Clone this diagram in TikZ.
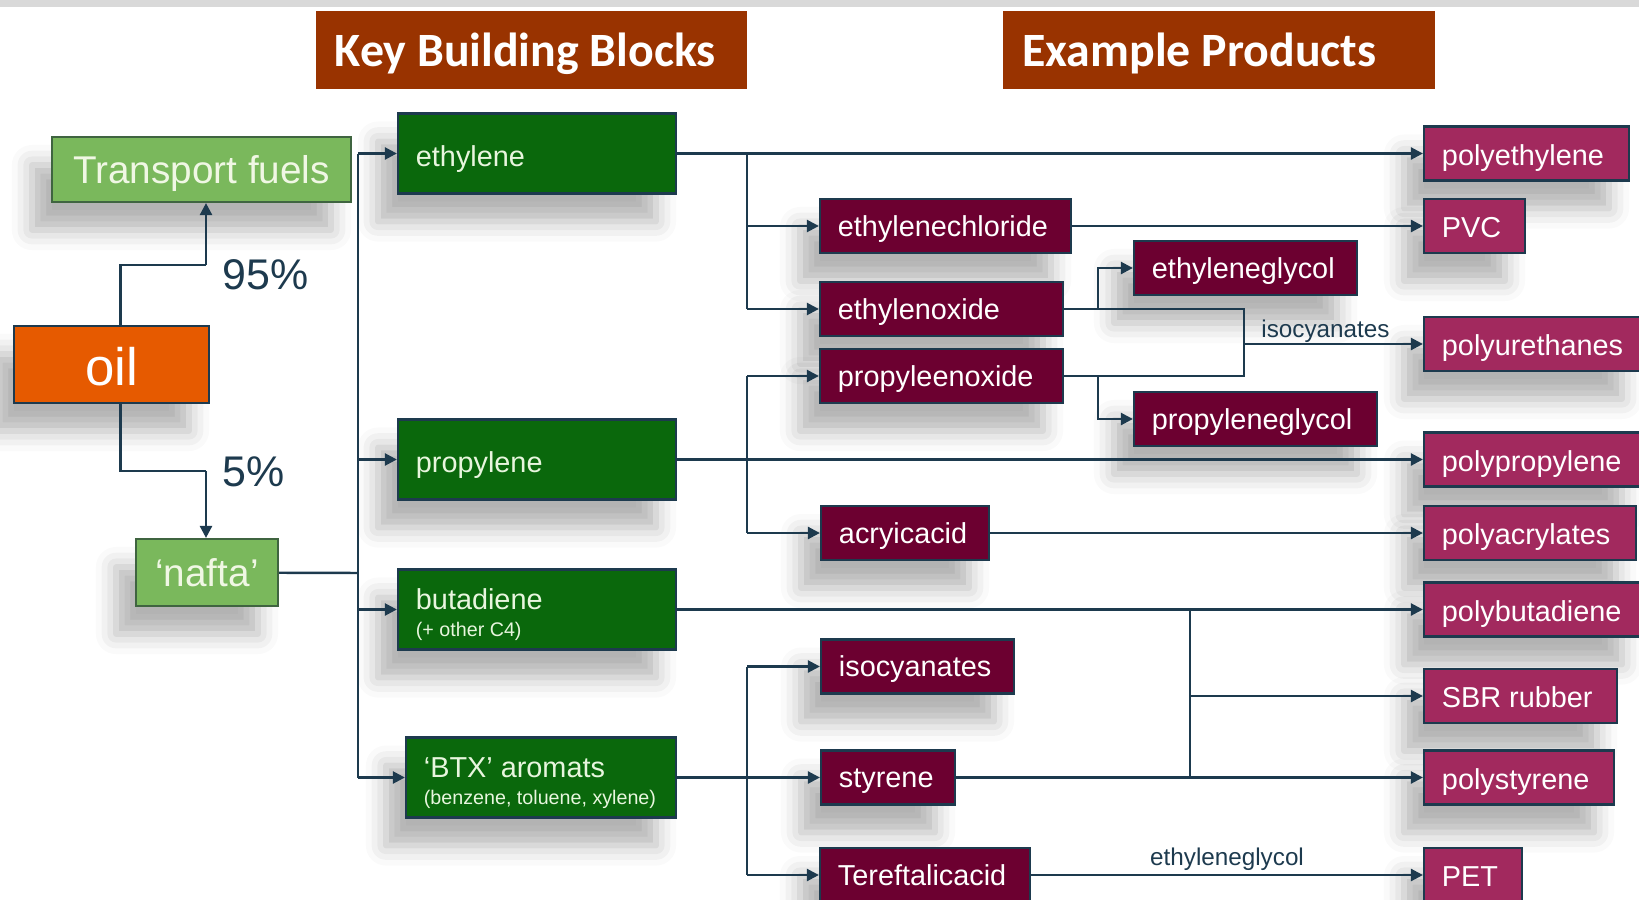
\documentclass[tikz,border=0pt]{standalone}
\usepackage{fontspec}
\setmainfont{Liberation Sans}
\newfontfamily\headfont{Carlito}
\usetikzlibrary{arrows.meta,shadows.blur}
\definecolor{navy}{HTML}{1D3A4E}
\definecolor{headred}{HTML}{993300}
\definecolor{fuelgreen}{HTML}{7AB85C}
\definecolor{fuelline}{HTML}{3F6440}
\definecolor{fuelcream}{HTML}{F0F7E4}
\definecolor{oilorange}{HTML}{E65A00}
\definecolor{blkgreen}{HTML}{0A680C}
\definecolor{blktext}{HTML}{E8F6DE}
\definecolor{midred}{HTML}{6C0030}
\definecolor{prodred}{HTML}{A2295E}
\newcommand{\boxfont}{\fontsize{8.2}{9.8}\selectfont}
\newcommand{\smallfont}{\fontsize{5.6}{6.8}\selectfont}
\begin{document}
\begin{tikzpicture}[x=0.01cm,y=-0.01cm,
  box/.style={draw=navy,line width=0.6pt,inner xsep=0.18cm,inner ysep=0.05cm,align=flush left,
    blur shadow={shadow xshift=-0.2cm,shadow yshift=-0.28cm,shadow blur radius=0.2cm,shadow opacity=30}},
  one/.style={text height=10.3pt,text depth=2.1pt},
  src/.style={box,one,draw=fuelline,fill=fuelgreen,text=fuelcream,align=center,font=\fontsize{11}{13}\selectfont},
  blk/.style={box,fill=blkgreen,text=blktext,text width=#1,minimum height=0.8cm,font=\boxfont},
  mid/.style={box,text height=7.9pt,text depth=2.1pt,fill=midred,text=white,text width=#1,minimum height=0.54cm,font=\boxfont},
  prod/.style={box,text height=8.9pt,text depth=2.1pt,fill=prodred,text=white,text width=#1,minimum height=0.54cm,font=\boxfont},
  head/.style={fill=headred,text=white,inner xsep=0.19cm,text width=3.93cm,minimum height=0.78cm,align=flush left,
    text depth=0pt,font=\headfont\bfseries\fontsize{13.6}{16}\selectfont},
  link/.style={draw=navy,line width=0.7pt},
  arr/.style={link,-{Triangle[length=0.12cm,width=0.12cm]}},
  lbl/.style={text=navy,inner sep=0pt,above=0pt,font=\fontsize{6.9}{8}\selectfont},
  pct/.style={text=navy,anchor=west,inner sep=0pt,font=\fontsize{12.2}{14}\selectfont}]
\useasboundingbox (0,0) rectangle (1639,900);
%top bar
\fill[gray!30] (0,0) rectangle (1639,7);
%headers
\node[head] (kbb) at (531.5,50) {Key Building Blocks};
\node[head] (exp) at (1219,50) {Example Products};
%sources
\node[src,minimum width=2.99cm,minimum height=0.65cm] (tf) at (201.5,169.5) {Transport fuels};
\node[src,fill=oilorange,draw=navy,text=white,minimum width=1.95cm,minimum height=0.77cm,
  text height=12.1pt,text depth=0pt,font=\fontsize{15}{18}\selectfont] (oil) at (111.5,364.5) {oil};
\node[src,minimum width=1.42cm,minimum height=0.67cm] (nafta) at (207,572.5) {‘nafta’};
\node[pct] (p95) at (222,275) {95\%};
\node[pct] (p5) at (222,472) {5\%};
%building blocks
\node[blk=2.42cm,text height=9.5pt,text depth=2.1pt] (eth) at (537,153.5) {ethylene};
\node[blk=2.42cm,text height=9.5pt,text depth=2.1pt] (prop) at (537,459.5) {propylene};
\node[blk=2.42cm] (buta) at (537,609.5) {\rule{0pt}{8.8pt}butadiene\\[-2.2pt]\mbox{\smallfont (+ other C4)}};
\node[blk=2.34cm] (btx) at (541,777.5) {\rule{0pt}{8.8pt}‘BTX’ aromats\\[-2.2pt]\mbox{\smallfont (benzene, toluene, xylene)}};
%intermediates
\node[mid=2.15cm] (ecl) at (945.5,226) {ethylenechloride};
\node[mid=2.07cm] (eox) at (941.5,309) {ethylenoxide};
\node[mid=1.87cm] (eg) at (1245.5,268) {ethyleneglycol};
\node[mid=2.07cm] (pox) at (941.5,376) {propyleenoxide};
\node[mid=2.07cm] (pg) at (1255.5,419) {propyleneglycol};
\node[mid=1.32cm] (acr) at (905,533) {acryicacid};
\node[mid=1.57cm] (iso) at (917.5,666.5) {isocyanates};
\node[mid=0.98cm] (sty) at (888,777.5) {styrene};
\node[mid=1.74cm] (tere) at (925,875) {Tereftalicacid};
%products
\node[prod=1.69cm] (pe) at (1526.5,153.5) {polyethylene};
\node[prod=0.65cm] (pvc) at (1474.5,226) {PVC};
\node[prod=1.82cm] (pu) at (1533,344) {polyurethanes};
\node[prod=1.82cm] (pp) at (1533,459.5) {polypropylene};
\node[prod=1.76cm] (pa) at (1530,533) {polyacrylates};
\node[prod=1.82cm] (pb) at (1533,609.5) {polybutadiene};
\node[prod=1.57cm] (sbr) at (1520.5,696) {SBR rubber};
\node[prod=1.54cm] (ps) at (1519,777.5) {polystyrene};
\node[prod=0.62cm] (pet) at (1473,875) {PET};
%junctions
\coordinate (k95) at (206,265);
\coordinate (k5) at (206,471);
\coordinate (bus) at (358,573);
\coordinate (ej) at (747,0);
\coordinate (gj) at (1098,0);
\coordinate (uj) at (1244,0);
\coordinate (sj) at (1190,0);
%oil split
\draw[link] ([xshift=0.09cm]oil.north) |- (k95);
\draw[arr] (k95) -- (k95 |- tf.south);
\draw[link] ([xshift=0.09cm]oil.south) |- (k5);
\draw[arr] (k5) -- (k5 |- nafta.north);
%nafta to building blocks
\draw[link] (nafta) -- (bus);
\draw[link] (bus |- eth) -- (bus |- btx);
\foreach \b in {eth,prop,buta,btx} \draw[arr] (bus |- \b) -- (\b);
%ethylene
\draw[arr] (eth) -- (pe);
\draw[link] (ej |- eth) -- (ej |- eox);
\foreach \b in {ecl,eox} \draw[arr] (ej |- \b) -- (\b);
\draw[arr] (ecl) -- (pvc);
\draw[arr] (gj |- eox) |- (eg);
\draw[link] (eox) -| (uj |- pox) -- (pox);
\draw[arr] (uj |- pu) -- node[lbl,xshift=-0.08cm] (isolbl) {isocyanates} (pu);
\draw[arr] (gj |- pox) |- (pg);
%propylene
\draw[arr] (prop) -- (pp);
\draw[link] (ej |- pox) -- (ej |- acr);
\foreach \b in {pox,acr} \draw[arr] (ej |- \b) -- (\b);
\draw[arr] (acr) -- (pa);
%butadiene
\draw[arr] (buta) -- (pb);
\draw[link] (sj |- buta) -- (sj |- sty);
\draw[arr] (sj |- sbr) -- (sbr);
%aromats
\draw[link] (ej |- iso) -- (ej |- tere);
\draw[arr] (btx) -- (sty);
\foreach \b in {iso,tere} \draw[arr] (ej |- \b) -- (\b);
\draw[arr] (sty) -- (ps);
\draw[arr] (tere) -- node[lbl,above=0.03cm] (eglbl) {ethyleneglycol} (pet);
\end{tikzpicture}
\end{document}
